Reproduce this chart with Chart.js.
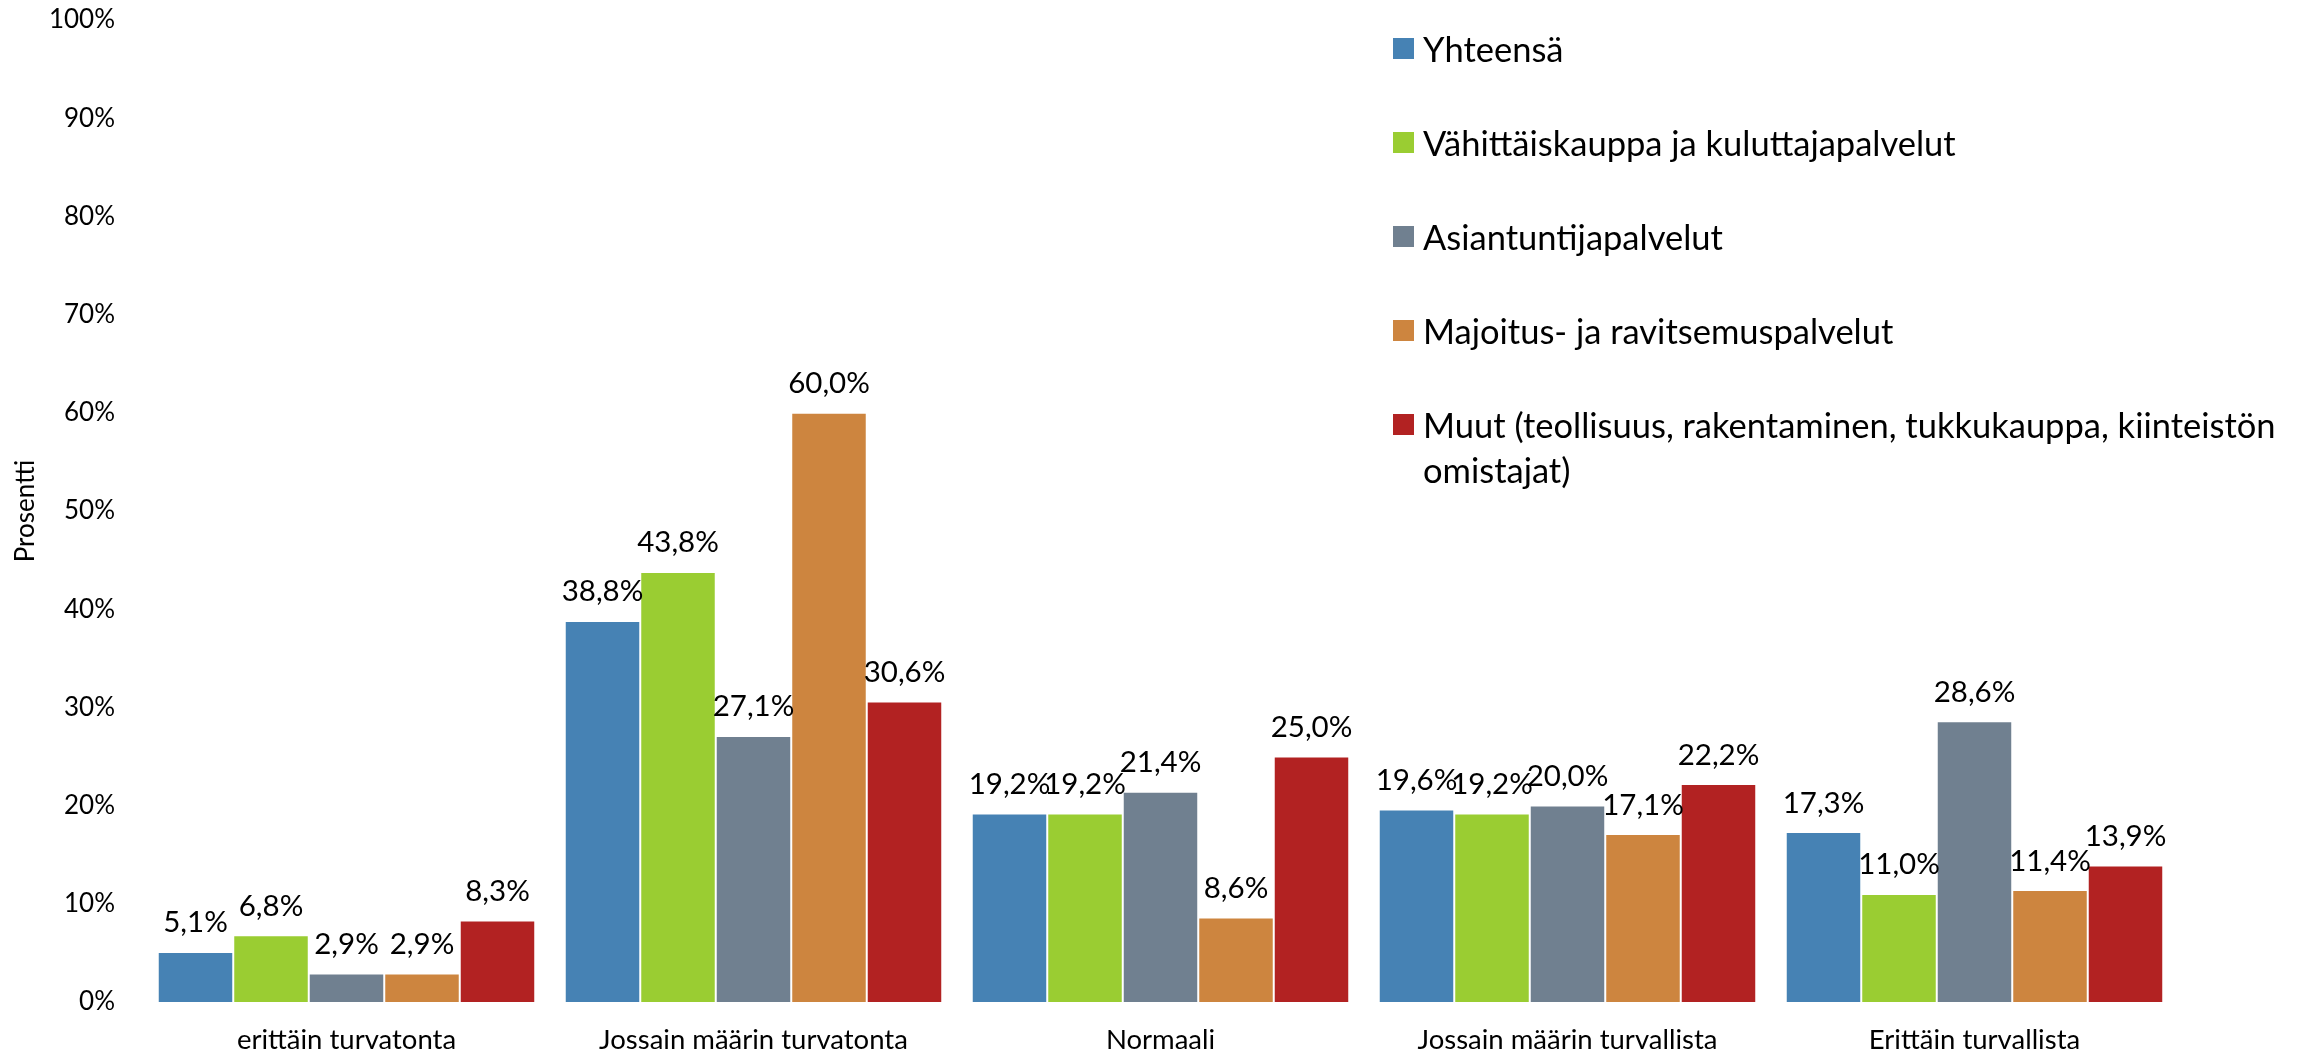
<!DOCTYPE html>
<html>
<head>
<meta charset="utf-8">
<script src="https://cdn.jsdelivr.net/npm/chart.js@4.4.1/dist/chart.umd.min.js"></script>
<style>
  html, body { margin: 0; padding: 0; background: #ffffff; overflow: hidden; }
  #wrap { position: relative; width: 2323px; height: 1054px; overflow: hidden; }
  #legend { position: absolute; left: 1393px; top: 26px; width: 925px; font-family: Lato, sans-serif; font-size: 34.5px; color: #000; }
  .item { display: flex; align-items: flex-start; margin-bottom: 49px; }
  .sw { width: 21px; height: 21px; margin-top: 12px; margin-right: 9px; flex: 0 0 auto; }
  .tx { line-height: 45px; width: 895px; }
</style>
</head>
<body>
<div id="wrap">
  <canvas id="c" width="2323" height="1054"></canvas>
  <div id="legend"></div>
</div>
<script>
const categories = ["erittäin turvatonta", "Jossain määrin turvatonta", "Normaali", "Jossain määrin turvallista", "Erittäin turvallista"];
const seriesNames = ["Yhteensä", "Vähittäiskauppa ja kuluttajapalvelut", "Asiantuntijapalvelut", "Majoitus- ja ravitsemuspalvelut", "Muut (teollisuus, rakentaminen, tukkukauppa, kiinteistön omistajat)"];
const yhteensa = [5.1, 38.8, 19.2, 19.6, 17.3];
const vahittaiskauppa = [6.8, 43.8, 19.2, 19.2, 11.0];
const asiantuntija = [2.9, 27.1, 21.4, 20.0, 28.6];
const majoitus = [2.9, 60.0, 8.6, 17.1, 11.4];
const muut = [8.3, 30.6, 25.0, 22.2, 13.9];
const yTicks = [0, 10, 20, 30, 40, 50, 60, 70, 80, 90, 100];
const colors = ["#4682B4", "#9ACD32", "#708090", "#CD853F", "#B22222"];
const FONT = "Lato, sans-serif";

const seriesValues = [yhteensa, vahittaiskauppa, asiantuntija, majoitus, muut];
const fmt = v => v.toFixed(1).replace('.', ',') + '%';

const datasets = seriesValues.map((vals, i) => ({
  label: seriesNames[i],
  data: vals,
  backgroundColor: colors[i],
  borderColor: '#ffffff',
  borderWidth: 1,
  categoryPercentage: 0.9275,
  barPercentage: 1.0
}));

const labelPlugin = {
  id: 'valueLabels',
  afterDatasetsDraw(chart) {
    const ctx = chart.ctx;
    ctx.save();
    ctx.font = '29.5px ' + FONT;
    ctx.fillStyle = '#000';
    ctx.textAlign = 'center';
    ctx.textBaseline = 'middle';
    chart.data.datasets.forEach((ds, di) => {
      const meta = chart.getDatasetMeta(di);
      meta.data.forEach((bar, i) => {
        ctx.fillText(fmt(ds.data[i]), bar.x, bar.y - 29);
      });
    });
    ctx.restore();
  }
};

new Chart(document.getElementById('c'), {
  type: 'bar',
  data: { labels: categories, datasets },
  options: {
    responsive: false,
    animation: false,
    layout: { padding: { top: 20, right: 145, left: 0, bottom: 0 } },
    plugins: { legend: { display: false }, tooltip: { enabled: false } },
    scales: {
      x: {
        grid: { display: false, drawTicks: false },
        border: { display: false },
        ticks: { color: '#000', font: { family: FONT, size: 27.5 }, padding: 22, maxRotation: 0 },
        afterFit(s) { s.height = 52; s.paddingLeft = 0; s.paddingRight = 0; }
      },
      y: {
        min: 0, max: 100,
        grid: { display: false, drawTicks: false },
        border: { display: false },
        afterBuildTicks(s) { s.ticks = yTicks.map(v => ({ value: v })); },
        ticks: { color: '#000', font: { family: FONT, size: 26 }, padding: 28, callback: v => v + '%' },
        title: { display: true, text: 'Prosentti', color: '#000', font: { family: FONT, size: 26 }, padding: { top: 10, bottom: 0 } },
        afterFit(s) { s.width = 143; s.paddingTop = 0; s.paddingBottom = 0; }
      }
    }
  },
  plugins: [labelPlugin]
});

const leg = document.getElementById('legend');
seriesNames.forEach((n, i) => {
  const it = document.createElement('div');
  it.className = 'item';
  const sw = document.createElement('div');
  sw.className = 'sw';
  sw.style.background = colors[i];
  const tx = document.createElement('div');
  tx.className = 'tx';
  tx.textContent = n;
  it.appendChild(sw); it.appendChild(tx);
  leg.appendChild(it);
});
</script>
</body>
</html>
